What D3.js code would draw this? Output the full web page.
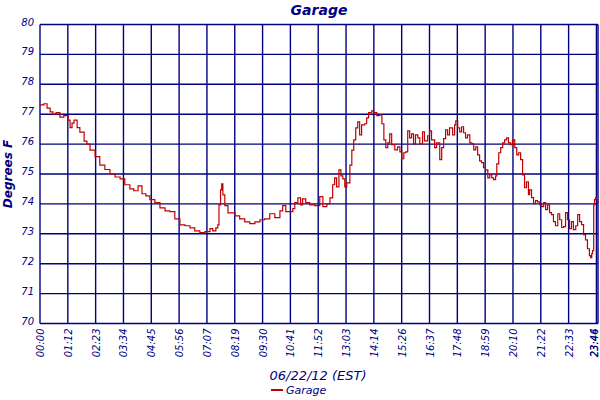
<!DOCTYPE html>
<html>
<head>
<meta charset="utf-8">
<script src="https://cdn.jsdelivr.net/npm/d3@7"></script>
<style>
  body { margin: 0; background: #fff; }
  svg { display: block; }
</style>
</head>
<body>
<svg id="chart"></svg>
<script>
// minutes after midnight, 06/22/12
const times = [0, 10, 18, 26, 33, 41, 51, 61, 72, 77, 82, 87, 95, 102, 113, 120, 128, 141, 153, 166,
  179, 192, 205, 217, 230, 240, 251, 261, 271, 281, 294, 307, 320, 332, 345, 358, 371, 384, 396, 409,
  422, 435, 442, 450, 455, 458, 462, 465, 468, 473, 481, 499, 511, 524, 537, 550, 563, 575, 588, 601,
  614, 621, 629, 639, 647, 652, 660, 667, 672, 680, 690, 703, 716, 724, 734, 742, 749, 754, 759, 765,
  770, 775, 780, 785, 793, 798, 803, 808, 813, 818, 823, 831, 836, 841, 849, 854, 862, 869, 875, 880,
  885, 890, 895, 900, 908, 915, 921, 926, 931, 936, 941, 946, 951, 956, 961, 967, 972, 979, 984, 992,
  997, 1002, 1010, 1015, 1023, 1028, 1033, 1038, 1043, 1048, 1056, 1061, 1064, 1069, 1074, 1079, 1084, 1089, 1094, 1100,
  1105, 1110, 1115, 1120, 1125, 1130, 1135, 1140, 1146, 1151, 1156, 1161, 1166, 1169, 1174, 1179, 1184, 1189, 1194, 1199,
  1204, 1209, 1215, 1220, 1225, 1230, 1235, 1240, 1245, 1250, 1253, 1258, 1263, 1268, 1273, 1279, 1284, 1289, 1294, 1299,
  1304, 1309, 1314, 1319, 1325, 1330, 1335, 1340, 1345, 1350, 1355, 1360, 1365, 1371, 1376, 1381, 1386, 1391, 1396, 1401,
  1406, 1409, 1412, 1414, 1417, 1419, 1422, 1424, 1427];

// garage temperature, degrees F
const garage = [77.31, 77.35, 77.2, 77.08, 77.0, 77.05, 76.9, 76.95, 76.8, 76.55, 76.7, 76.8, 76.55, 76.4, 76.1, 76.0, 75.8, 75.58, 75.3, 75.15,
  75.0, 74.9, 74.84, 74.64, 74.5, 74.44, 74.6, 74.34, 74.27, 74.14, 74.04, 73.87, 73.77, 73.74, 73.5, 73.3, 73.27, 73.2, 73.1, 73.04,
  73.07, 73.17, 73.1, 73.2, 73.3, 73.97, 74.47, 74.67, 74.3, 73.94, 73.7, 73.6, 73.5, 73.4, 73.34, 73.4, 73.47, 73.5, 73.67, 73.54,
  73.77, 73.94, 73.74, 73.74, 73.84, 74.04, 74.2, 73.97, 74.17, 74.04, 73.97, 73.94, 74.24, 73.91, 74.0, 74.2, 74.64, 74.87, 74.57, 75.14,
  74.94, 74.84, 74.57, 74.7, 75.3, 75.8, 76.14, 76.54, 76.74, 76.31, 76.64, 76.68, 76.88, 77.05, 77.11, 77.05, 76.95, 76.98, 76.68, 76.14,
  75.88, 76.04, 76.34, 75.98, 75.81, 75.91, 75.74, 75.51, 75.71, 75.74, 76.44, 76.21, 76.34, 76.01, 76.31, 76.21, 76.01, 76.41, 76.11, 76.28,
  76.44, 76.14, 75.88, 76.04, 75.48, 75.88, 76.18, 76.48, 76.31, 76.54, 76.31, 76.64, 76.78, 76.54, 76.41, 76.58, 76.38, 76.21, 76.31, 76.04,
  76.01, 75.81, 75.91, 75.64, 75.44, 75.38, 75.21, 75.14, 74.87, 74.98, 74.87, 74.81, 74.94, 75.34, 75.71, 75.88, 76.04, 76.14, 76.21, 76.04,
  75.98, 76.14, 75.88, 75.64, 75.71, 75.48, 74.97, 74.54, 74.74, 74.31, 74.47, 74.21, 74.01, 74.11, 74.07, 73.97, 73.91, 74.04, 73.81, 73.97,
  73.71, 73.64, 73.41, 73.27, 73.67, 73.47, 73.21, 73.24, 73.71, 73.47, 73.17, 73.41, 73.14, 73.27, 73.64, 73.41, 73.31, 72.97, 72.8, 72.5,
  72.27, 72.2, 72.34, 72.44, 73.97, 74.14, 74.21, 74.14, 74.04];

const tickLabels = ['00:00', '01:12', '02:23', '03:34', '04:45', '05:56', '07:07', '08:19', '09:30', '10:41',
  '11:52', '13:03', '14:14', '15:26', '16:37', '17:48', '18:59', '20:10', '21:22', '22:33', '23:44'];
const lastLabel = '23:46';
const yTicks = [70, 71, 72, 73, 74, 75, 76, 77, 78, 79, 80];

const data = times.map((t, i) => ({ t: t, v: garage[i] }));

const W = 600, H = 400;
const margin = { top: 24.5, right: 2, bottom: 76.5, left: 40 };
const width = W - margin.left - margin.right;
const height = H - margin.top - margin.bottom;
const navy = '#000080';
const font = 'Verdana, "DejaVu Sans", sans-serif';

const svg = d3.select('#chart')
  .attr('width', W)
  .attr('height', H);

svg.append('rect')
  .attr('width', W)
  .attr('height', H)
  .attr('fill', '#fff');

const g = svg.append('g')
  .attr('transform', `translate(${margin.left}, ${margin.top})`);

const endT = 1428;
const step = 1424 / 20;
const tickVals = tickLabels.map((d, i) => i * step);

const x = d3.scaleLinear().domain([0, endT]).range([0, width]);
const y = d3.scaleLinear().domain([70, 80]).range([height, 0]);

// grid
g.append('g')
  .selectAll('line')
  .data(tickVals.concat([endT]))
  .join('line')
  .attr('x1', d => x(d)).attr('x2', d => x(d))
  .attr('y1', 0).attr('y2', height)
  .attr('stroke', navy)
  .attr('stroke-width', 1.4);

g.append('g')
  .selectAll('line')
  .data(yTicks)
  .join('line')
  .attr('x1', 0).attr('x2', width)
  .attr('y1', d => y(d)).attr('y2', d => y(d))
  .attr('stroke', navy)
  .attr('stroke-width', 1.4);

// y axis labels
g.append('g')
  .selectAll('text')
  .data(yTicks)
  .join('text')
  .attr('x', -6)
  .attr('y', d => y(d))
  .attr('dy', '0.1em')
  .attr('text-anchor', 'end')
  .attr('font-family', font)
  .attr('font-style', 'italic')
  .attr('font-size', '10px')
  .attr('fill', navy)
  .text(d => d);

// x axis labels (rotated), kept inside the right edge
const xLabs = tickVals.map((v, i) => ({ v: v, s: tickLabels[i] })).concat([{ v: endT, s: lastLabel }]);
g.append('g')
  .selectAll('text')
  .data(xLabs)
  .join('text')
  .attr('transform', d => `translate(${Math.min(x(d.v) + 4, width - 0.5)}, ${height + 5}) rotate(-90)`)
  .attr('text-anchor', 'end')
  .attr('font-family', font)
  .attr('font-style', 'italic')
  .attr('font-size', '10px')
  .attr('fill', navy)
  .text(d => d.s);

// series
const line = d3.line()
  .x(d => x(d.t))
  .y(d => y(d.v))
  .curve(d3.curveStepAfter);

g.append('path')
  .datum(data)
  .attr('fill', 'none')
  .attr('stroke', '#c00000')
  .attr('stroke-width', 1.2)
  .attr('d', line);

// titles
svg.append('text')
  .attr('x', 319)
  .attr('y', 15)
  .attr('text-anchor', 'middle')
  .attr('font-family', font)
  .attr('font-style', 'italic')
  .attr('font-weight', 'bold')
  .attr('font-size', '14px')
  .attr('fill', navy)
  .text('Garage');

svg.append('text')
  .attr('transform', `translate(12, ${margin.top + height / 2}) rotate(-90)`)
  .attr('text-anchor', 'middle')
  .attr('font-family', font)
  .attr('font-style', 'italic')
  .attr('font-weight', 'bold')
  .attr('font-size', '12px')
  .attr('fill', navy)
  .text('Degrees F');

svg.append('text')
  .attr('x', 318)
  .attr('y', 380)
  .attr('text-anchor', 'middle')
  .attr('font-family', font)
  .attr('font-style', 'italic')
  .attr('font-size', '13px')
  .attr('fill', navy)
  .text('06/22/12 (EST)');

// legend
const legend = svg.append('g').attr('transform', 'translate(271, 390)');
legend.append('line')
  .attr('x1', 0).attr('x2', 12)
  .attr('y1', 0).attr('y2', 0)
  .attr('stroke', '#c00000')
  .attr('stroke-width', 2);
legend.append('text')
  .attr('x', 15)
  .attr('y', 4)
  .attr('font-family', font)
  .attr('font-style', 'italic')
  .attr('font-size', '11px')
  .attr('fill', navy)
  .text('Garage');
</script>
</body>
</html>
